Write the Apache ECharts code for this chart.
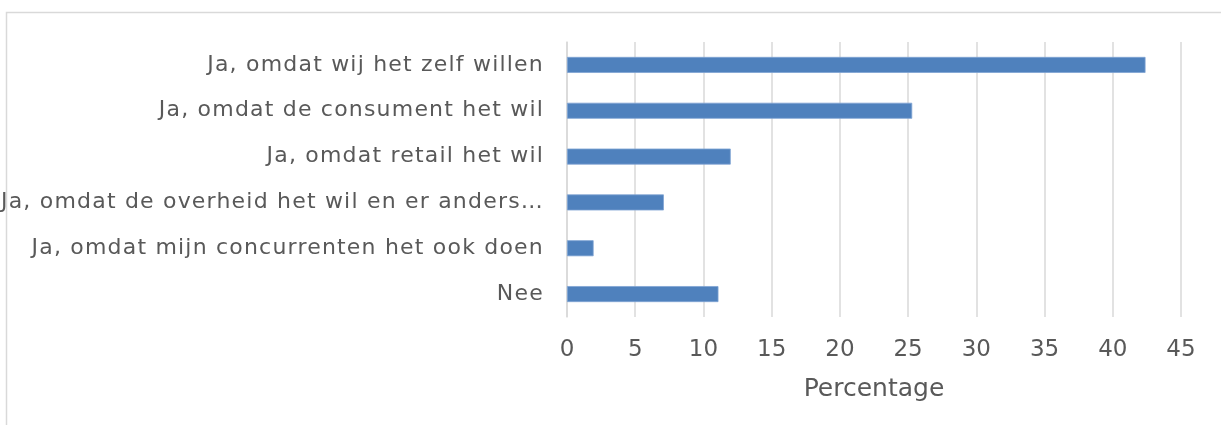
<!DOCTYPE html>
<html>
<head>
<meta charset="utf-8">
<script src="https://cdn.jsdelivr.net/npm/echarts@6/dist/echarts.min.js"></script>
<style>
html,body{margin:0;padding:0;background:#fff;}
#chart{width:1221px;height:425px;}
</style>
</head>
<body>
<div id="chart"></div>
<script>
const categories = [
  "Ja, omdat wij het zelf willen",
  "Ja, omdat de consument het wil",
  "Ja, omdat retail het wil",
  "Ja, omdat de overheid het wil en er anders…",
  "Ja, omdat mijn concurrenten het ook doen",
  "Nee"
];
const percentages = [42.4, 25.3, 12.0, 7.1, 1.95, 11.1];
const xTicks = [0, 5, 10, 15, 20, 25, 30, 35, 40, 45];
const axisTitle = "Percentage";

// Wider tracking for the category labels (Excel-like spacing)
(function () {
  const P = CanvasRenderingContext2D.prototype;
  if (!('letterSpacing' in P)) return;
  const spacingFor = function (font) {
    return font && font.indexOf('22px') >= 0 ? '1.2px' : '0px';
  };
  const wrap = function (name) {
    const orig = P[name];
    P[name] = function () {
      const prev = this.letterSpacing;
      this.letterSpacing = spacingFor(this.font);
      const r = orig.apply(this, arguments);
      this.letterSpacing = prev;
      return r;
    };
  };
  wrap('fillText');
  wrap('measureText');
})();

const chart = echarts.init(document.getElementById('chart'), null, {renderer: 'canvas'});
const fontFamily = '"DejaVu Sans", Verdana, sans-serif';
chart.setOption({
  animation: false,
  backgroundColor: '#ffffff',
  graphic: [{
    type: 'rect',
    shape: {x: 6.5, y: 12.5, width: 1400, height: 600},
    style: {fill: 'none', stroke: '#d9d9d9', lineWidth: 1.5},
    silent: true
  }],
  grid: {left: 567, right: 40, top: 42, bottom: 108, containLabel: false, outerBoundsMode: 'none'},
  xAxis: {
    type: 'value',
    min: xTicks[0],
    max: xTicks[xTicks.length - 1],
    interval: 5,
    name: axisTitle,
    nameLocation: 'middle',
    nameGap: 60,
    nameTextStyle: {color: '#595959', fontSize: 25, fontFamily: fontFamily},
    axisLine: {show: false},
    axisTick: {show: false},
    axisLabel: {color: '#595959', fontSize: 23, fontFamily: fontFamily, margin: 22},
    splitLine: {show: true, lineStyle: {color: '#d9d9d9', width: 1.5}}
  },
  yAxis: {
    type: 'category',
    data: categories,
    inverse: true,
    axisLine: {show: true, lineStyle: {color: '#d9d9d9', width: 1.5}},
    axisTick: {show: false},
    axisLabel: {color: '#595959', fontSize: 22, fontFamily: fontFamily, margin: 23}
  },
  series: [{
    type: 'bar',
    data: percentages,
    barWidth: 16,
    itemStyle: {color: '#4f81bd', borderColor: '#7fa3d3', borderWidth: 0.8}
  }]
});
</script>
</body>
</html>
